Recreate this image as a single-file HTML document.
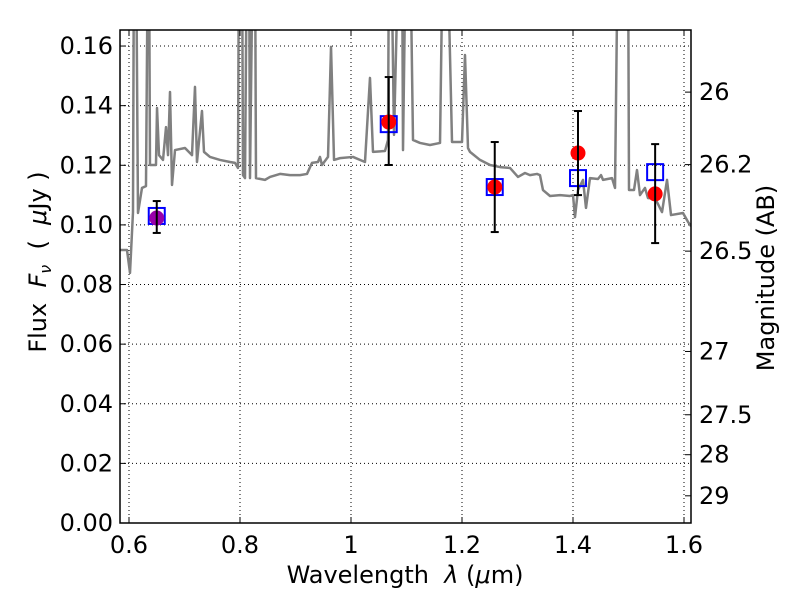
<!DOCTYPE html>
<html><head><meta charset="utf-8"><style>
body{margin:0;background:#fff;}
text{font-family:"DejaVu Sans","Liberation Sans",sans-serif;fill:#000;}
</style></head><body>
<svg id="c" width="800" height="600"></svg>
<script>
const specLam=[0.5838,0.5964,0.6018,0.6072,0.6090,0.6126,0.6162,0.6234,0.6306,0.6342,0.6360,0.6378,0.6486,0.6505,0.6541,0.6613,0.6667,0.6703,0.6739,0.6775,0.6829,0.7009,0.7135,0.7189,0.7225,0.7315,0.7351,0.7459,0.7640,0.7820,0.7910,0.7964,0.7982,0.8036,0.8054,0.8090,0.8126,0.8162,0.8180,0.8234,0.8270,0.8288,0.8450,0.8541,0.8721,0.8901,0.9081,0.9207,0.9297,0.9405,0.9441,0.9477,0.9586,0.9640,0.9694,0.9802,1.0036,1.0252,1.0342,1.0396,1.0613,1.0667,1.0685,1.0721,1.0775,1.0865,1.0919,1.0937,1.0991,1.1063,1.1117,1.1243,1.1423,1.1604,1.1658,1.1730,1.1820,1.2000,1.2054,1.2108,1.2144,1.2324,1.2505,1.2685,1.2865,1.3009,1.3135,1.3225,1.3351,1.3405,1.3459,1.3586,1.3766,1.3946,1.4000,1.4036,1.4090,1.4180,1.4234,1.4306,1.4450,1.4505,1.4541,1.4703,1.4757,1.4811,1.4991,1.5009,1.5099,1.5153,1.5207,1.5297,1.5351,1.5477,1.5604,1.5694,1.5766,1.5982,1.6072,1.6126];
const specF=[0.0916,0.0916,0.0839,0.1043,0.2,0.2,0.1040,0.1124,0.1130,0.2,0.2,0.1201,0.1201,0.1392,0.1234,0.1218,0.1328,0.1234,0.1446,0.1134,0.1251,0.1258,0.1234,0.1463,0.1211,0.1382,0.1245,0.1228,0.1218,0.1211,0.1208,0.1191,0.2,0.2,0.1167,0.1157,0.2,0.2,0.1157,0.2,0.2,0.1157,0.1151,0.1161,0.1171,0.1167,0.1167,0.1171,0.1208,0.1211,0.1228,0.1201,0.1228,0.1597,0.1218,0.1224,0.1228,0.1211,0.1493,0.1245,0.1248,0.1285,0.2,0.2,0.1302,0.2,0.2,0.1251,0.2,0.2,0.1285,0.1275,0.1268,0.1275,0.2,0.2,0.1278,0.1278,0.1570,0.1258,0.1245,0.1218,0.1201,0.1194,0.1191,0.1161,0.1174,0.1167,0.1171,0.1167,0.1117,0.1097,0.1100,0.1097,0.1100,0.1026,0.1117,0.1151,0.1057,0.1157,0.1154,0.1167,0.1151,0.1157,0.1124,0.2,0.2,0.1117,0.1117,0.1184,0.1100,0.1124,0.1090,0.1090,0.1043,0.1151,0.1033,0.1040,0.1010,0.0996];
const obsLam=[0.650,1.068,1.259,1.409,1.548];
const obsF=[0.1023,0.1345,0.1127,0.1241,0.1104];
const errHi=[0.1080,0.1496,0.1278,0.1382,0.1271];
const errLo=[0.0973,0.1201,0.0976,0.1100,0.0939];
const modelF=[0.1030,0.1338,0.1127,0.1157,0.1177];
const xTicks=[0.6,0.8,1.0,1.2,1.4,1.6];
const xLabels=["0.6","0.8","1","1.2","1.4","1.6"];
const yTicks=[0,0.02,0.04,0.06,0.08,0.10,0.12,0.14,0.16];
const yLabels=["0.00","0.02","0.04","0.06","0.08","0.10","0.12","0.14","0.16"];
const magTicks=[26,26.2,26.5,27,27.5,28,29];
const magLabels=["26","26.2","26.5","27","27.5","28","29"];

const L=120,R=691,T=30,B=523;
const FS='24px';
const X=l=>129+(l-0.6)*555;
const Y=f=>B-f*2981;
const NS="http://www.w3.org/2000/svg";
const svg=document.getElementById('c');
function mk(tag,attrs,parent){const e=document.createElementNS(NS,tag);for(const k in attrs)e.setAttribute(k,attrs[k]);if(tag==='text')e.style.fontSize=FS;(parent||svg).appendChild(e);return e;}
const defs=mk('defs',{});const cp=mk('clipPath',{id:'clip'},defs);mk('rect',{x:L,y:T,width:R-L,height:B-T},cp);

const grid=mk('g',{stroke:'#000','stroke-width':1,'stroke-dasharray':'1,3'});


xTicks.forEach(v=>mk('line',{x1:X(v),x2:X(v),y1:T,y2:B},grid));
yTicks.forEach(v=>mk('line',{x1:L,x2:R,y1:Y(v),y2:Y(v)},grid));

const sp=mk('polyline',{points:specLam.map((l,i)=>X(l)+','+Y(specF[i])).join(' '),fill:'none',stroke:'#808080','stroke-width':2.5,'stroke-linejoin':'round','clip-path':'url(#clip)'});



obsLam.forEach((l,i)=>{
  const g=mk('g',{});
  
  
  mk('rect',{x:X(l)-8,y:Y(modelF[i])-8,width:16,height:16,fill:'none',stroke:'#0000ff','stroke-width':2},g);
  mk('circle',{cx:X(l),cy:Y(obsF[i]),r:7.5,fill:i==0?'#9900aa':'#ff0000'},g);
  mk('line',{x1:X(l),x2:X(l),y1:Y(errHi[i]),y2:Y(errLo[i]),stroke:'#000','stroke-width':2},g);
  mk('line',{x1:X(l)-4,x2:X(l)+4,y1:Y(errHi[i]),y2:Y(errHi[i]),stroke:'#000','stroke-width':2},g);
  mk('line',{x1:X(l)-4,x2:X(l)+4,y1:Y(errLo[i]),y2:Y(errLo[i]),stroke:'#000','stroke-width':2},g);
});

const ax=mk('g',{stroke:'#000','stroke-width':1});
xTicks.forEach((v,i)=>{mk('line',{x1:X(v),x2:X(v),y1:B,y2:B-6},ax);mk('line',{x1:X(v),x2:X(v),y1:T,y2:T+6},ax);
  const t=mk('text',{x:X(v),y:B+30,'text-anchor':'middle',stroke:'none'});t.textContent=xLabels[i];
  
  });
yTicks.forEach((v,i)=>{mk('line',{x1:L,x2:L+6,y1:Y(v),y2:Y(v)},ax);
  const t=mk('text',{x:L-7,y:Y(v)+8,'text-anchor':'end',stroke:'none'});t.textContent=yLabels[i];
  
  });
magTicks.forEach((m,i)=>{const f=Math.pow(10,(23.9-m)/2.5);mk('line',{x1:R,x2:R-6,y1:Y(f),y2:Y(f)},ax);
  const t=mk('text',{x:R+8,y:Y(f)+8,stroke:'none'});t.textContent=magLabels[i];
  
  });
const fr=mk('rect',{x:L,y:T,width:R-L,height:B-T,fill:'none',stroke:'#000','stroke-width':1.5});



const xt=mk('text',{x:405,y:583,'text-anchor':'middle'});xt.innerHTML='Wavelength &#160;<tspan font-style="italic">λ</tspan> (<tspan font-style="italic">μ</tspan>m)';


const yt=mk('text',{x:0,y:0,'text-anchor':'middle',transform:'translate(46,262) rotate(-90)'});yt.innerHTML='Flux &#160;<tspan font-style="italic">F</tspan><tspan font-style="italic" font-size="16" dy="5">ν</tspan><tspan dy="-5"> &#160;( &#160;<tspan font-style="italic">μ</tspan>Jy )</tspan>';


const rt=mk('text',{x:0,y:0,'text-anchor':'middle',transform:'translate(774,278) rotate(-90)'});rt.textContent='Magnitude (AB)';


</script>
</body></html>
